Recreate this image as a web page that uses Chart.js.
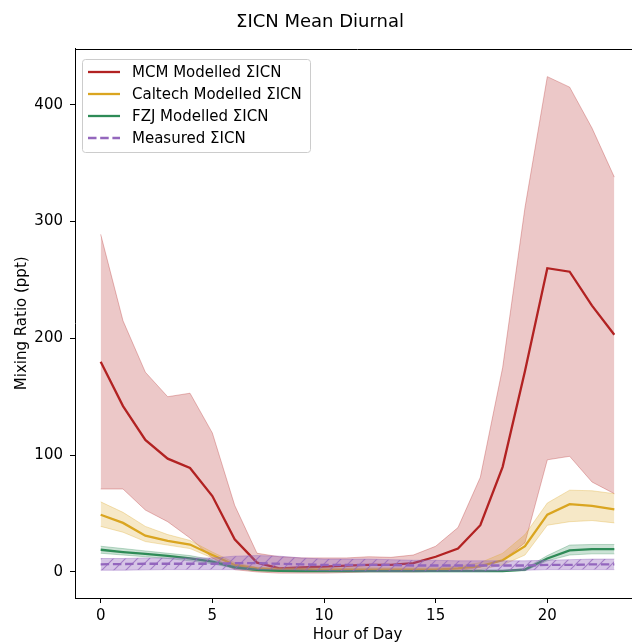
<!DOCTYPE html>
<html>
<head>
<meta charset="utf-8">
<script src="https://cdn.jsdelivr.net/npm/chart.js@4.4.1/dist/chart.umd.min.js"></script>
<style>
html,body{margin:0;padding:0;background:#fff;overflow:hidden;width:632px;height:644px}
#wrap{width:654px;height:644px}
</style>
</head>
<body>
<div id="wrap"><canvas id="c" width="654" height="644"></canvas></div>
<script>
// ---- data ----
const hours = [0,1,2,3,4,5,6,7,8,9,10,11,12,13,14,15,16,17,18,19,20,21,22,23];
const xTicks = [0,5,10,15,20];
const yTicks = [0,100,200,300,400];
const seriesNames = ["MCM Modelled ΣICN","Caltech Modelled ΣICN","FZJ Modelled ΣICN","Measured ΣICN"];

const mcmMean  = [180,142,113,97,89,65,28,8,3,3.8,4.5,5.5,6,6,7.5,13,20,40,90,172,260,257,228,203];
const mcmUpper = [289,215,171,150,153,119,57,16,13,12,12,12,13,12.5,14.5,22,38,81,175,312,424,415,380,338];
const mcmLower = [71,71,53,43,29,12,2,0,-1,-1,-1,-0.5,0,0,0,0.5,1,4,10,25,96,99,77,67];

const calMean  = [49,42,31,26.5,23.5,14.5,6,3,2,2,2,2,2,2,2,2,3,5,10,22,49,58,56.5,53.5];
const calUpper = [60,51,39,32,27,17,8,4,3.5,3.5,3.5,3.5,3.5,3.5,3.5,3.5,5,8,16,32,59,70,69.5,67];
const calLower = [39,34,26,23,20,12,3,1,0.5,0.5,0.5,0.5,0.5,0.5,0.5,0.5,1,2,6,14.5,40,43,44,42];

const fzjMean  = [19,17,15.4,13.7,11.7,8.8,4,1.7,1,0.8,0.7,0.7,0.7,0.7,0.7,0.7,0.7,0.8,0.8,2,11.5,18.5,19.5,19.5];
const fzjUpper = [22,20,18,16,14,10.5,5,2.5,1.5,1.2,1,1,1,1,1,1,1,1.2,1.2,3,14,23,23.5,23.5];
const fzjLower = [16,14.5,13,11.5,9.5,7,3,1,0.5,0.4,0.4,0.4,0.4,0.4,0.4,0.4,0.4,0.5,0.5,1,9.5,14.5,15.5,15.5];

const measMean  = [6.5,6.8,7,7,7,7,7.5,7.5,7,6.5,6,6,6,6,5.5,5.5,5.5,5.5,5.5,5.5,6,6,6.5,6.5];
const measUpper = [11.5,11.5,12,12,12,12,13.5,14,13.5,12,11,11,11,10.5,10,10,9.5,9.5,9.5,9.5,10,10.5,11,11];
const measLower = [1.5,1.5,1.8,2,2,2,2,2,2,1.5,1,0.8,0.5,0.5,0.5,0.5,0.5,0.5,1,1.5,2,2,2,2];

// ---- helpers ----
const pts = arr => hours.map((h,i)=>({x:h,y:arr[i]}));
const FONT = "'DejaVu Sans', 'Liberation Sans', sans-serif";
const C = {
  mcm:'#b22222', cal:'#daa520', fzj:'#2e8b57', meas:'#9467bd'
};
function rgba(hex,a){const n=parseInt(hex.slice(1),16);return `rgba(${n>>16},${(n>>8)&255},${n&255},${a})`;}

function hatchPattern(){
  const s=12, cv=document.createElement('canvas'); cv.width=s; cv.height=s;
  const g=cv.getContext('2d');
  g.fillStyle=rgba(C.meas,0.38); g.fillRect(0,0,s,s);
  g.strokeStyle=rgba(C.meas,0.75); g.lineWidth=1.1;
  g.beginPath();
  g.moveTo(0,s); g.lineTo(s,0);
  g.moveTo(-s/2,s/2); g.lineTo(s/2,-s/2);
  g.moveTo(s/2,s*1.5); g.lineTo(s*1.5,s/2);
  g.stroke();
  return g.createPattern(cv,'repeat');
}

function bandEdge(color,alpha,order){return {borderColor:rgba(color,alpha),borderWidth:1,pointRadius:0,order};}

const datasets = [
  {label:'mcmU', data:pts(mcmUpper), fill:false, ...bandEdge(C.mcm,0.3,100)},
  {label:'mcmL', data:pts(mcmLower), fill:'-1', backgroundColor:rgba(C.mcm,0.25), ...bandEdge(C.mcm,0.3,99)},
  {label:seriesNames[0], data:pts(mcmMean), borderColor:C.mcm, borderWidth:2.3, pointRadius:0, fill:false, order:98},
  {label:'calU', data:pts(calUpper), fill:false, ...bandEdge(C.cal,0.3,97)},
  {label:'calL', data:pts(calLower), fill:'-1', backgroundColor:rgba(C.cal,0.25), ...bandEdge(C.cal,0.3,96)},
  {label:seriesNames[1], data:pts(calMean), borderColor:C.cal, borderWidth:2.3, pointRadius:0, fill:false, order:95},
  {label:'fzjU', data:pts(fzjUpper), fill:false, ...bandEdge(C.fzj,0.3,94)},
  {label:'fzjL', data:pts(fzjLower), fill:'-1', backgroundColor:rgba(C.fzj,0.25), ...bandEdge(C.fzj,0.3,93)},
  {label:seriesNames[2], data:pts(fzjMean), borderColor:C.fzj, borderWidth:2.3, pointRadius:0, fill:false, order:92},
  {label:seriesNames[3], data:pts(measMean), borderColor:C.meas, borderWidth:2.3, borderDash:[8.5,3.7], pointRadius:0, fill:false, order:91},
  {label:'measU', data:pts(measUpper), fill:false, ...bandEdge(C.meas,0.4,90)},
  {label:'measL', data:pts(measLower), fill:'-1', backgroundColor:hatchPattern(), ...bandEdge(C.meas,0.4,89)}
];

const legendItems = [
  {text:seriesNames[0], color:C.mcm, dash:[]},
  {text:seriesNames[1], color:C.cal, dash:[]},
  {text:seriesNames[2], color:C.fzj, dash:[]},
  {text:seriesNames[3], color:C.meas, dash:[8.5,3.7]}
];

const framePlugin = {
  id:'frame',
  afterDatasetsDraw(chart){
    const {ctx, chartArea:a} = chart;
    ctx.save();
    ctx.strokeStyle='#000'; ctx.lineWidth=1;
    ctx.beginPath();
    ctx.moveTo(a.left, Math.round(a.top)+0.5); ctx.lineTo(a.right, Math.round(a.top)+0.5);
    ctx.moveTo(Math.round(a.right)+0.5, a.top); ctx.lineTo(Math.round(a.right)+0.5, a.bottom);
    ctx.stroke();
    ctx.restore();
  },
  afterDraw(chart){
    const ctx = chart.ctx;
    ctx.save();
    const bx=82.5, by=59.5, bw=228, bh=93, r=3;
    ctx.beginPath();
    ctx.moveTo(bx+r,by); ctx.lineTo(bx+bw-r,by); ctx.quadraticCurveTo(bx+bw,by,bx+bw,by+r);
    ctx.lineTo(bx+bw,by+bh-r); ctx.quadraticCurveTo(bx+bw,by+bh,bx+bw-r,by+bh);
    ctx.lineTo(bx+r,by+bh); ctx.quadraticCurveTo(bx,by+bh,bx,by+bh-r);
    ctx.lineTo(bx,by+r); ctx.quadraticCurveTo(bx,by,bx+r,by); ctx.closePath();
    ctx.fillStyle='rgba(255,255,255,0.8)'; ctx.fill();
    ctx.strokeStyle='#cccccc'; ctx.lineWidth=1; ctx.stroke();
    ctx.font = `15px ${FONT}`;
    ctx.textBaseline='middle'; ctx.textAlign='left';
    legendItems.forEach((it,i)=>{
      const y = 72 + i*22;
      ctx.strokeStyle=it.color; ctx.lineWidth=2.3; ctx.setLineDash(it.dash);
      ctx.beginPath(); ctx.moveTo(88,y); ctx.lineTo(120,y); ctx.stroke();
      ctx.setLineDash([]);
      ctx.fillStyle='#000'; ctx.fillText(it.text,132,y+1);
    });
    ctx.restore();
  }
};

Chart.defaults.font.family = FONT;
Chart.defaults.color = '#000';

new Chart(document.getElementById('c'), {
  type:'line',
  data:{datasets},
  plugins:[framePlugin],
  options:{
    responsive:false,
    animation:false,
    layout:{padding:{left:0,right:14,top:0,bottom:0}},
    elements:{line:{tension:0}},
    plugins:{
      legend:{display:false},
      tooltip:{enabled:false},
      filler:{propagate:false},
      title:{display:true, text:'ΣICN Mean Diurnal', color:'#000',
        font:{size:18, weight:'normal', family:FONT}, padding:{top:12,bottom:15}}
    },
    scales:{
      x:{
        type:'linear', min:-1.15, max:24.15,
        afterBuildTicks:s=>{s.ticks = xTicks.map(v=>({value:v}));},
        afterFit:s=>{s.height=46;},
        ticks:{font:{size:15}, color:'#000', padding:4, maxRotation:0, autoSkip:false},
        grid:{drawOnChartArea:false, drawTicks:true, tickLength:5, color:'#000', lineWidth:1},
        border:{display:true, color:'#000', width:1},
        title:{display:true, text:'Hour of Day', color:'#000', font:{size:15}, padding:{top:0,bottom:0}}
      },
      y:{
        type:'linear', min:-22.3, max:448,
        afterBuildTicks:s=>{s.ticks = yTicks.map(v=>({value:v}));},
        afterFit:s=>{s.width=75;},
        ticks:{font:{size:15}, color:'#000', padding:7, autoSkip:false},
        grid:{drawOnChartArea:false, drawTicks:true, tickLength:5, color:'#000', lineWidth:1},
        border:{display:true, color:'#000', width:1},
        title:{display:true, text:'Mixing Ratio (ppt)', color:'#000', font:{size:15}, padding:{top:13,bottom:0}}
      }
    }
  }
});
</script>
</body>
</html>
